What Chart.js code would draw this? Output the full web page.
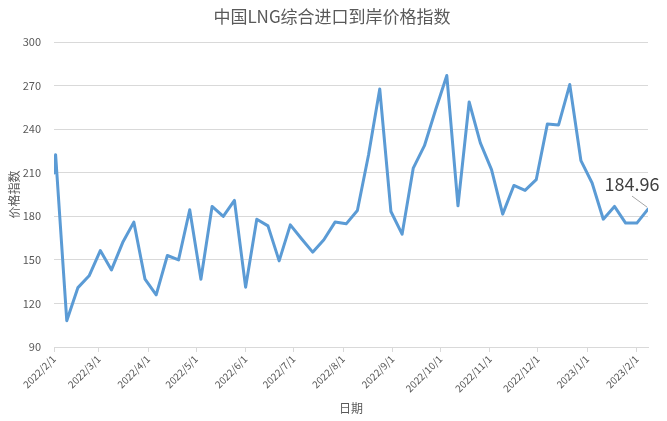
<!DOCTYPE html>
<html>
<head>
<meta charset="utf-8">
<script src="https://cdn.jsdelivr.net/npm/chart.js@4/dist/chart.umd.min.js"></script>
<style>
  html, body { margin: 0; padding: 0; background: #ffffff; }
  #wrap { width: 667px; height: 421px; }
</style>
</head>
<body>
<div id="wrap"><canvas id="c" width="667" height="421"></canvas></div>
<script>
const chartTitle = '中国LNG综合进口到岸价格指数';
const yTitle = '价格指数';
const xTitle = '日期';

const dates = [
  '2022/2/1','2022/2/2','2022/2/9','2022/2/16','2022/2/23',
  '2022/3/2','2022/3/9','2022/3/16','2022/3/23','2022/3/30',
  '2022/4/6','2022/4/13','2022/4/20','2022/4/27',
  '2022/5/4','2022/5/11','2022/5/18','2022/5/25',
  '2022/6/1','2022/6/8','2022/6/15','2022/6/22','2022/6/29',
  '2022/7/6','2022/7/13','2022/7/20','2022/7/27',
  '2022/8/3','2022/8/10','2022/8/17','2022/8/24','2022/8/31',
  '2022/9/7','2022/9/14','2022/9/21','2022/9/28',
  '2022/10/5','2022/10/12','2022/10/19','2022/10/26',
  '2022/11/2','2022/11/9','2022/11/16','2022/11/23','2022/11/30',
  '2022/12/7','2022/12/14','2022/12/21','2022/12/28',
  '2023/1/4','2023/1/11','2023/1/18','2023/1/25',
  '2023/2/1','2023/2/8'
];

const values = [
  209.8, 222.4, 108.1, 130.9, 139.0,
  156.4, 143.1, 161.9, 176.0, 136.7,
  125.9, 153.0, 150.0, 184.5,
  136.7, 186.8, 179.9, 190.9,
  131.2, 178.0, 173.4, 149.3, 174.1,
  164.5, 155.3, 163.8, 176.0,
  174.8, 184.0, 222.4, 267.7, 183.3,
  167.7, 213.2, 228.6, 253.4,
  276.9, 187.2, 258.7, 230.5,
  212.1, 181.5, 201.2, 197.8, 205.2,
  243.6, 242.9, 270.7, 218.3,
  202.9, 178.0, 186.8, 175.3,
  175.3, 184.96
];

const tickLabels = [
  '2022/2/1','2022/3/1','2022/4/1','2022/5/1','2022/6/1','2022/7/1',
  '2022/8/1','2022/9/1','2022/10/1','2022/11/1','2022/12/1','2023/1/1','2023/2/1'
];

const yMin = 90, yMax = 300, yStep = 30;
const annotText = '184.96';

function dayNum(s) {
  const p = s.split('/').map(Number);
  return Math.round((Date.UTC(p[0], p[1] - 1, p[2]) - Date.UTC(2022, 1, 1)) / 86400000);
}
const dayNums = dates.map(dayNum);
const tickDays = tickLabels.map(dayNum);
const points = values.map((v, i) => ({ x: dayNums[i], y: v }));

const FONT = '"Noto Sans CJK SC", "Noto Sans", sans-serif';

const titlePlugin = {
  id: 'customTitle',
  afterDraw(chart) {
    const ctx = chart.ctx;
    ctx.save();
    ctx.fillStyle = '#595959';
    ctx.font = '17px ' + FONT;
    ctx.textAlign = 'center';
    ctx.textBaseline = 'middle';
    ctx.fillText(chartTitle, 332, 17);
    ctx.restore();
  }
};

const annotPlugin = {
  id: 'annot',
  afterDatasetsDraw(chart) {
    const ctx = chart.ctx;
    const xs = chart.scales.x, ys = chart.scales.y;
    const i = values.length - 1;
    const px = xs.getPixelForValue(dayNums[i]);
    const py = ys.getPixelForValue(values[i]);
    ctx.save();
    ctx.strokeStyle = '#a6a6a6';
    ctx.lineWidth = 1;
    ctx.beginPath();
    ctx.moveTo(px - 16, py - 13);
    ctx.lineTo(px - 1, py - 2);
    ctx.stroke();
    ctx.fillStyle = '#404040';
    ctx.font = '18px ' + FONT;
    ctx.textAlign = 'center';
    ctx.textBaseline = 'middle';
    ctx.fillText(annotText, px - 16, py - 25);
    ctx.restore();
  }
};

new Chart(document.getElementById('c'), {
  type: 'line',
  data: {
    datasets: [{
      data: points,
      borderColor: '#5B9BD5',
      borderWidth: 3,
      pointRadius: 0,
      tension: 0,
      fill: false,
      borderJoinStyle: 'round',
      borderCapStyle: 'round'
    }]
  },
  options: {
    responsive: false,
    devicePixelRatio: 1,
    animation: false,
    parsing: true,
    layout: { padding: { top: 42, right: 19, left: 0, bottom: 0 } },
    plugins: {
      legend: { display: false },
      tooltip: { enabled: false },
      title: { display: false }
    },
    scales: {
      x: {
        type: 'linear',
        min: 0,
        max: dayNums[dayNums.length - 1],
        afterBuildTicks(scale) {
          scale.ticks = tickDays.map(v => ({ value: v }));
        },
        afterFit(scale) { scale.height = 74; },
        ticks: {
          autoSkip: false,
          minRotation: 45,
          maxRotation: 45,
          padding: 1,
          color: '#595959',
          font: { family: FONT, size: 10 },
          callback(value, index) { return tickLabels[index]; }
        },
        grid: {
          drawOnChartArea: false,
          drawTicks: true,
          tickLength: 5,
          color: '#d9d9d9'
        },
        border: { display: true, color: '#d9d9d9', width: 1 },
        title: {
          display: true,
          text: xTitle,
          color: '#595959',
          font: { family: FONT, size: 12 },
          padding: { top: 0, bottom: 5 }
        }
      },
      y: {
        min: yMin,
        max: yMax,
        afterFit(scale) { scale.width = 54; },
        ticks: {
          stepSize: yStep,
          padding: 13,
          color: '#595959',
          font: { family: FONT, size: 11 }
        },
        grid: {
          drawTicks: false,
          color: '#d9d9d9',
          lineWidth: 1
        },
        border: { display: false },
        title: {
          display: true,
          text: yTitle,
          color: '#595959',
          font: { family: FONT, size: 12 },
          padding: { top: 7, bottom: 0 }
        }
      }
    }
  },
  plugins: [titlePlugin, annotPlugin]
});
</script>
</body>
</html>
